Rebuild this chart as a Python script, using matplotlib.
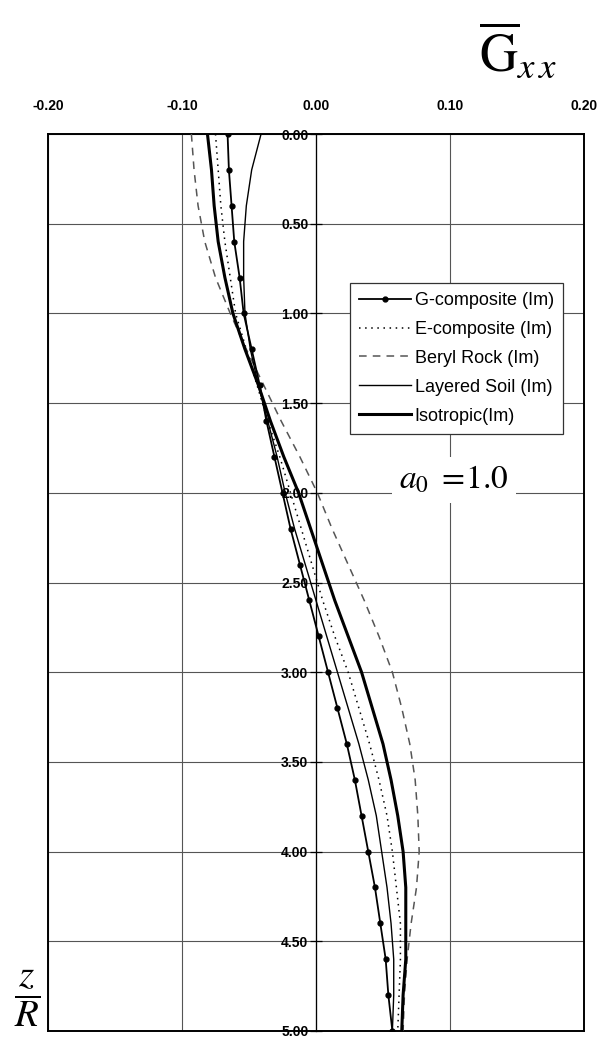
import numpy as np
import matplotlib.pyplot as plt

plt.rcParams['font.family'] = ['Liberation Sans', 'DejaVu Sans']
plt.rcParams['mathtext.fontset'] = 'stix'

# depth z/R, sampled every 0.2
z = [0.0, 0.2, 0.4, 0.6, 0.8, 1.0, 1.2, 1.4, 1.6, 1.8, 2.0, 2.2, 2.4,
     2.6, 2.8, 3.0, 3.2, 3.4, 3.6, 3.8, 4.0, 4.2, 4.4, 4.6, 4.8, 5.0]

g_comp = [-0.066, -0.065, -0.063, -0.061, -0.057, -0.054, -0.048, -0.042, -0.037,
          -0.031, -0.025, -0.019, -0.012, -0.005, 0.002, 0.009, 0.016, 0.023,
          0.029, 0.034, 0.039, 0.044, 0.048, 0.052, 0.054, 0.057]
e_comp = [-0.075, -0.073, -0.071, -0.068, -0.064, -0.060, -0.052, -0.044, -0.036,
          -0.027, -0.019, -0.011, -0.003, 0.005, 0.014, 0.024, 0.032, 0.040,
          0.047, 0.053, 0.057, 0.060, 0.063, 0.063, 0.062, 0.061]
beryl = [-0.093, -0.091, -0.088, -0.083, -0.075, -0.064, -0.052, -0.039, -0.026,
         -0.012, 0.001, 0.012, 0.024, 0.036, 0.047, 0.057, 0.064, 0.070,
         0.074, 0.076, 0.077, 0.075, 0.071, 0.068, 0.066, 0.065]
layered = [-0.041, -0.048, -0.052, -0.054, -0.054, -0.053, -0.049, -0.043, -0.036,
           -0.029, -0.023, -0.016, -0.008, 0.000, 0.008, 0.016, 0.024, 0.032,
           0.039, 0.045, 0.049, 0.053, 0.056, 0.058, 0.058, 0.057]
isotropic = [-0.081, -0.078, -0.076, -0.073, -0.068, -0.062, -0.053, -0.043, -0.034,
             -0.024, -0.013, -0.004, 0.005, 0.014, 0.024, 0.034, 0.042, 0.050,
             0.056, 0.061, 0.065, 0.067, 0.067, 0.067, 0.065, 0.064]

xticks = [-0.20, -0.10, 0.00, 0.10, 0.20]
xlabels = ['-0.20', '-0.10', '0.00', '0.10', '0.20']
yticks = [0.0, 0.5, 1.0, 1.5, 2.0, 2.5, 3.0, 3.5, 4.0, 4.5, 5.0]

fig = plt.figure(figsize=(6.09, 10.39), dpi=100)
ax = fig.add_axes([48/609, 8/1039, 536/609, 897/1039])

ax.plot(g_comp, z, color='k', lw=1.3, marker='o', ms=3.5, label='G-composite (Im)', zorder=5)
ax.plot(e_comp, z, color='k', lw=1.1, ls=(0, (1, 3)), label='E-composite (Im)', zorder=4)
ax.plot(beryl, z, color='#555555', lw=1.1, ls=(0, (5, 4)), label='Beryl Rock (Im)', zorder=4)
ax.plot(layered, z, color='k', lw=1.0, label='Layered Soil (Im)', zorder=4)
ax.plot(isotropic, z, color='k', lw=2.2, label='Isotropic(Im)', zorder=4)

ax.set_xlim(-0.2, 0.2)
ax.set_ylim(5.0, 0.0)

# x ticks on top
ax.xaxis.tick_top()
ax.set_xticks(xticks)
ax.set_xticklabels(xlabels, fontsize=10, fontweight='bold')
ax.tick_params(axis='x', length=0, pad=15)

# y axis drawn through x = 0
ax.spines['left'].set_position(('data', 0))
ax.spines['left'].set_linewidth(0.9)
ax.set_yticks(yticks)
ax.set_yticklabels(['%.2f' % v for v in yticks], fontsize=10, fontweight='bold')
ax.tick_params(axis='y', direction='inout', length=9, width=0.9, pad=1)
ax.axvline(-0.2, color='k', lw=1.4, clip_on=False, zorder=6)
for s in ['top', 'right', 'bottom']:
    ax.spines[s].set_linewidth(1.4)

ax.grid(True, color='#555555', lw=0.8)
ax.set_axisbelow(True)

leg = ax.legend(loc='upper left', bbox_to_anchor=(0.563, 0.834), borderaxespad=0,
                fontsize=13, handlelength=2.9, handletextpad=0.2, labelspacing=0.66,
                fancybox=False, framealpha=1, edgecolor='#333333', borderpad=0.5)
leg.get_frame().set_linewidth(0.9)

ax.text(0.103, 1.93, r'$a_0\ =\!1.0$', fontsize=24, ha='center', va='center',
        bbox=dict(facecolor='white', edgecolor='none', pad=5), zorder=7)

fig.text(518/609, 1 - 52/1039, r'$\overline{\mathrm{G}}_{x\,x}$', fontsize=38,
         ha='center', va='center')
fig.text(27/609, 1 - 998/1039, r'$\dfrac{z}{R}$', fontsize=28, ha='center', va='center')

fig.savefig('out.png', dpi=100)
